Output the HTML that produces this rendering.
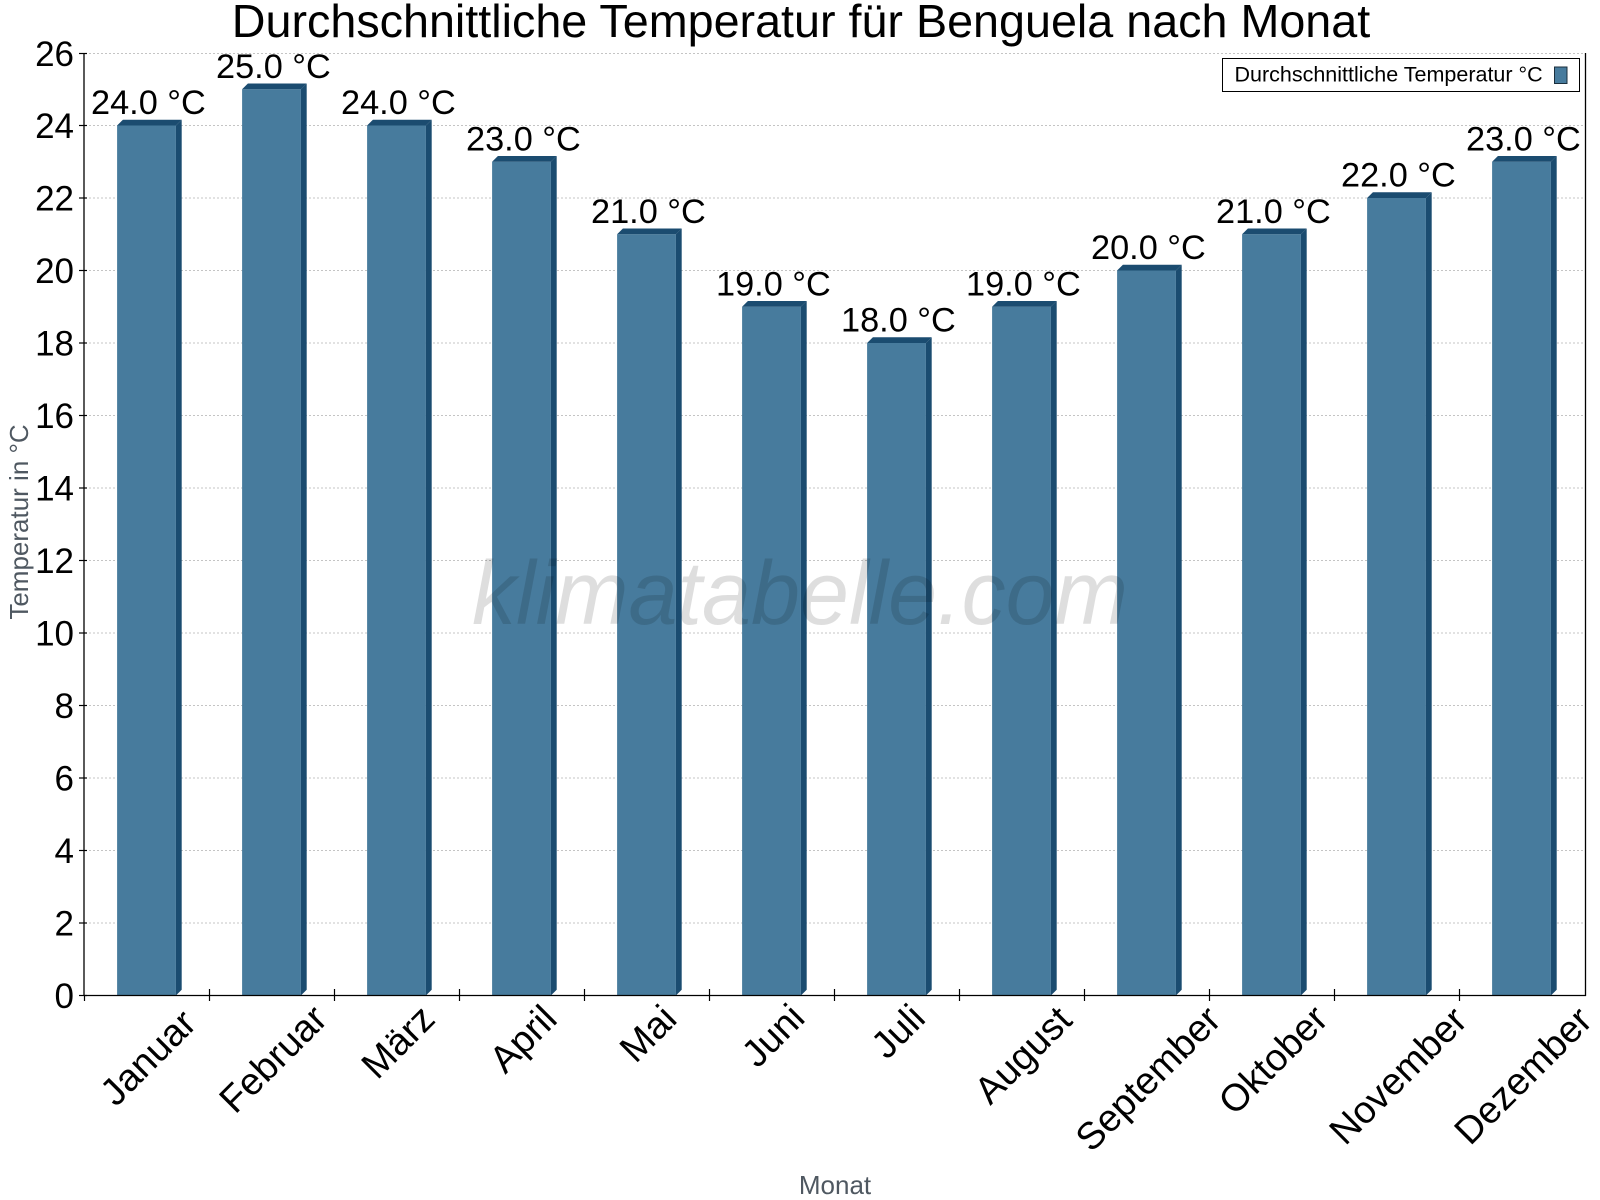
<!DOCTYPE html>
<html>
<head>
<meta charset="utf-8">
<style>
  html, body { margin:0; padding:0; background:#ffffff; }
  svg { display:block; }
  text { font-family: "Liberation Sans", Arial, sans-serif; }
</style>
</head>
<body>
<svg width="1600" height="1200" viewBox="0 0 1600 1200" xmlns="http://www.w3.org/2000/svg">
  <rect x="0" y="0" width="1600" height="1200" fill="#ffffff"/>

  <!-- Title -->
  <text x="801" y="37" font-size="46.7" text-anchor="middle" fill="#000">Durchschnittliche Temperatur für Benguela nach Monat</text>

  <!-- Grid lines -->
  <g stroke="#c4c4c4" stroke-width="1" stroke-dasharray="2,2">
    <line x1="85" y1="53.5" x2="1585" y2="53.5"/>
    <line x1="85" y1="125.5" x2="1585" y2="125.5"/>
    <line x1="85" y1="198" x2="1585" y2="198"/>
    <line x1="85" y1="270.5" x2="1585" y2="270.5"/>
    <line x1="85" y1="343" x2="1585" y2="343"/>
    <line x1="85" y1="415.5" x2="1585" y2="415.5"/>
    <line x1="85" y1="488" x2="1585" y2="488"/>
    <line x1="85" y1="560.5" x2="1585" y2="560.5"/>
    <line x1="85" y1="633" x2="1585" y2="633"/>
    <line x1="85" y1="705.5" x2="1585" y2="705.5"/>
    <line x1="85" y1="778" x2="1585" y2="778"/>
    <line x1="85" y1="850.5" x2="1585" y2="850.5"/>
    <line x1="85" y1="923" x2="1585" y2="923"/>
  </g>

  <!-- Bars -->
  <g>
    <g transform="translate(146.5 0)">
      <rect x="-29.4" y="125.5" width="58.8" height="870" fill="#477b9d"/>
      <polygon points="-29.4,125.5 -23.6,119.7 35.2,119.7 29.4,125.5" fill="#1b4c70"/>
      <polygon points="29.4,125.5 35.2,119.7 35.2,989.7 29.4,995.5" fill="#1b4c70"/>
    </g>
    <g transform="translate(271.5 0)">
      <rect x="-29.4" y="89.25" width="58.8" height="906.25" fill="#477b9d"/>
      <polygon points="-29.4,89.25 -23.6,83.45 35.2,83.45 29.4,89.25" fill="#1b4c70"/>
      <polygon points="29.4,89.25 35.2,83.45 35.2,989.7 29.4,995.5" fill="#1b4c70"/>
    </g>
    <g transform="translate(396.5 0)">
      <rect x="-29.4" y="125.5" width="58.8" height="870" fill="#477b9d"/>
      <polygon points="-29.4,125.5 -23.6,119.7 35.2,119.7 29.4,125.5" fill="#1b4c70"/>
      <polygon points="29.4,125.5 35.2,119.7 35.2,989.7 29.4,995.5" fill="#1b4c70"/>
    </g>
    <g transform="translate(521.5 0)">
      <rect x="-29.4" y="161.75" width="58.8" height="833.75" fill="#477b9d"/>
      <polygon points="-29.4,161.75 -23.6,155.95 35.2,155.95 29.4,161.75" fill="#1b4c70"/>
      <polygon points="29.4,161.75 35.2,155.95 35.2,989.7 29.4,995.5" fill="#1b4c70"/>
    </g>
    <g transform="translate(646.5 0)">
      <rect x="-29.4" y="234.25" width="58.8" height="761.25" fill="#477b9d"/>
      <polygon points="-29.4,234.25 -23.6,228.45 35.2,228.45 29.4,234.25" fill="#1b4c70"/>
      <polygon points="29.4,234.25 35.2,228.45 35.2,989.7 29.4,995.5" fill="#1b4c70"/>
    </g>
    <g transform="translate(771.5 0)">
      <rect x="-29.4" y="306.75" width="58.8" height="688.75" fill="#477b9d"/>
      <polygon points="-29.4,306.75 -23.6,300.95 35.2,300.95 29.4,306.75" fill="#1b4c70"/>
      <polygon points="29.4,306.75 35.2,300.95 35.2,989.7 29.4,995.5" fill="#1b4c70"/>
    </g>
    <g transform="translate(896.5 0)">
      <rect x="-29.4" y="343" width="58.8" height="652.5" fill="#477b9d"/>
      <polygon points="-29.4,343 -23.6,337.2 35.2,337.2 29.4,343" fill="#1b4c70"/>
      <polygon points="29.4,343 35.2,337.2 35.2,989.7 29.4,995.5" fill="#1b4c70"/>
    </g>
    <g transform="translate(1021.5 0)">
      <rect x="-29.4" y="306.75" width="58.8" height="688.75" fill="#477b9d"/>
      <polygon points="-29.4,306.75 -23.6,300.95 35.2,300.95 29.4,306.75" fill="#1b4c70"/>
      <polygon points="29.4,306.75 35.2,300.95 35.2,989.7 29.4,995.5" fill="#1b4c70"/>
    </g>
    <g transform="translate(1146.5 0)">
      <rect x="-29.4" y="270.5" width="58.8" height="725" fill="#477b9d"/>
      <polygon points="-29.4,270.5 -23.6,264.7 35.2,264.7 29.4,270.5" fill="#1b4c70"/>
      <polygon points="29.4,270.5 35.2,264.7 35.2,989.7 29.4,995.5" fill="#1b4c70"/>
    </g>
    <g transform="translate(1271.5 0)">
      <rect x="-29.4" y="234.25" width="58.8" height="761.25" fill="#477b9d"/>
      <polygon points="-29.4,234.25 -23.6,228.45 35.2,228.45 29.4,234.25" fill="#1b4c70"/>
      <polygon points="29.4,234.25 35.2,228.45 35.2,989.7 29.4,995.5" fill="#1b4c70"/>
    </g>
    <g transform="translate(1396.5 0)">
      <rect x="-29.4" y="198" width="58.8" height="797.5" fill="#477b9d"/>
      <polygon points="-29.4,198 -23.6,192.2 35.2,192.2 29.4,198" fill="#1b4c70"/>
      <polygon points="29.4,198 35.2,192.2 35.2,989.7 29.4,995.5" fill="#1b4c70"/>
    </g>
    <g transform="translate(1521.5 0)">
      <rect x="-29.4" y="161.75" width="58.8" height="833.75" fill="#477b9d"/>
      <polygon points="-29.4,161.75 -23.6,155.95 35.2,155.95 29.4,161.75" fill="#1b4c70"/>
      <polygon points="29.4,161.75 35.2,155.95 35.2,989.7 29.4,995.5" fill="#1b4c70"/>
    </g>
  </g>

  <!-- Value labels -->
  <g font-size="34.3" text-anchor="middle" fill="#000">
    <text x="148.4" y="114">24.0 °C</text>
    <text x="273.4" y="77.75">25.0 °C</text>
    <text x="398.4" y="114">24.0 °C</text>
    <text x="523.4" y="150.25">23.0 °C</text>
    <text x="648.4" y="222.75">21.0 °C</text>
    <text x="773.4" y="295.25">19.0 °C</text>
    <text x="898.4" y="331.5">18.0 °C</text>
    <text x="1023.4" y="295.25">19.0 °C</text>
    <text x="1148.4" y="259">20.0 °C</text>
    <text x="1273.4" y="222.75">21.0 °C</text>
    <text x="1398.4" y="186.5">22.0 °C</text>
    <text x="1523.4" y="150.25">23.0 °C</text>
  </g>

  <!-- Watermark -->
  <text x="472" y="624" font-size="90" font-style="italic" fill="#000" fill-opacity="0.13" textLength="656" lengthAdjust="spacingAndGlyphs">klimatabelle.com</text>

  <!-- Axes -->
  <g stroke="#000" stroke-width="1.3" fill="none">
    <line x1="84" y1="53" x2="84" y2="996"/>
    <line x1="1585.5" y1="53" x2="1585.5" y2="996"/>
    <line x1="84" y1="995.5" x2="1586" y2="995.5"/>
  </g>
  <!-- Y ticks -->
  <g stroke="#000" stroke-width="1.2">
    <line x1="79" y1="53.5" x2="87" y2="53.5"/>
    <line x1="79" y1="125.5" x2="87" y2="125.5"/>
    <line x1="79" y1="198" x2="87" y2="198"/>
    <line x1="79" y1="270.5" x2="87" y2="270.5"/>
    <line x1="79" y1="343" x2="87" y2="343"/>
    <line x1="79" y1="415.5" x2="87" y2="415.5"/>
    <line x1="79" y1="488" x2="87" y2="488"/>
    <line x1="79" y1="560.5" x2="87" y2="560.5"/>
    <line x1="79" y1="633" x2="87" y2="633"/>
    <line x1="79" y1="705.5" x2="87" y2="705.5"/>
    <line x1="79" y1="778" x2="87" y2="778"/>
    <line x1="79" y1="850.5" x2="87" y2="850.5"/>
    <line x1="79" y1="923" x2="87" y2="923"/>
    <line x1="79" y1="995.5" x2="87" y2="995.5"/>
  </g>
  <!-- X ticks -->
  <g stroke="#000" stroke-width="1.2">
    <line x1="84.5" y1="995" x2="84.5" y2="1001"/>
    <line x1="209.5" y1="989" x2="209.5" y2="1001"/>
    <line x1="334.5" y1="989" x2="334.5" y2="1001"/>
    <line x1="459.5" y1="989" x2="459.5" y2="1001"/>
    <line x1="584.5" y1="989" x2="584.5" y2="1001"/>
    <line x1="709.5" y1="989" x2="709.5" y2="1001"/>
    <line x1="834.5" y1="989" x2="834.5" y2="1001"/>
    <line x1="959.5" y1="989" x2="959.5" y2="1001"/>
    <line x1="1084.5" y1="989" x2="1084.5" y2="1001"/>
    <line x1="1209.5" y1="989" x2="1209.5" y2="1001"/>
    <line x1="1334.5" y1="989" x2="1334.5" y2="1001"/>
    <line x1="1459.5" y1="989" x2="1459.5" y2="1001"/>
  </g>

  <!-- Y tick labels -->
  <g font-size="35" text-anchor="end" fill="#000">
    <text x="74" y="66">26</text>
    <text x="74" y="138">24</text>
    <text x="74" y="210.5">22</text>
    <text x="74" y="283">20</text>
    <text x="74" y="355.5">18</text>
    <text x="74" y="428">16</text>
    <text x="74" y="500.5">14</text>
    <text x="74" y="573">12</text>
    <text x="74" y="645.5">10</text>
    <text x="74" y="718">8</text>
    <text x="74" y="790.5">6</text>
    <text x="74" y="863">4</text>
    <text x="74" y="935.5">2</text>
    <text x="74" y="1008">0</text>
  </g>

  <!-- Month labels -->
  <g font-size="38" text-anchor="middle" fill="#000">
    <text transform="translate(147.5 1057) rotate(-45)" x="0" y="13.6">Januar</text>
    <text transform="translate(272.5 1058.5) rotate(-45)" x="0" y="13.6">Februar</text>
    <text transform="translate(397.5 1041.3) rotate(-45)" x="0" y="13.6">März</text>
    <text transform="translate(522.5 1038.4) rotate(-45)" x="0" y="13.6">April</text>
    <text transform="translate(647.5 1033.1) rotate(-45)" x="0" y="13.6">Mai</text>
    <text transform="translate(772.5 1035) rotate(-45)" x="0" y="13.6">Juni</text>
    <text transform="translate(897.5 1030.8) rotate(-45)" x="0" y="13.6">Juli</text>
    <text transform="translate(1022.5 1054.5) rotate(-45)" x="0" y="13.6">August</text>
    <text transform="translate(1147.5 1078) rotate(-45)" x="0" y="13.6">September</text>
    <text transform="translate(1272.5 1059.3) rotate(-45)" x="0" y="13.6">Oktober</text>
    <text transform="translate(1397.5 1075) rotate(-45)" x="0" y="13.6">November</text>
    <text transform="translate(1522.5 1075) rotate(-45)" x="0" y="13.6">Dezember</text>
  </g>

  <!-- Axis titles -->
  <text transform="translate(28 522) rotate(-90)" x="0" y="0" font-size="26" text-anchor="middle" fill="#4f5861">Temperatur in °C</text>
  <text x="835" y="1194" font-size="26" text-anchor="middle" fill="#4f5861">Monat</text>

  <!-- Legend -->
  <rect x="1222.5" y="58.5" width="357" height="33" fill="#ffffff" stroke="#000" stroke-width="1"/>
  <text x="1234.5" y="81.7" font-size="21.5" fill="#000">Durchschnittliche Temperatur °C</text>
  <rect x="1554.5" y="67" width="12.5" height="16.5" fill="#477b9d" stroke="#1b2f3d" stroke-width="1"/>
</svg>
</body>
</html>
